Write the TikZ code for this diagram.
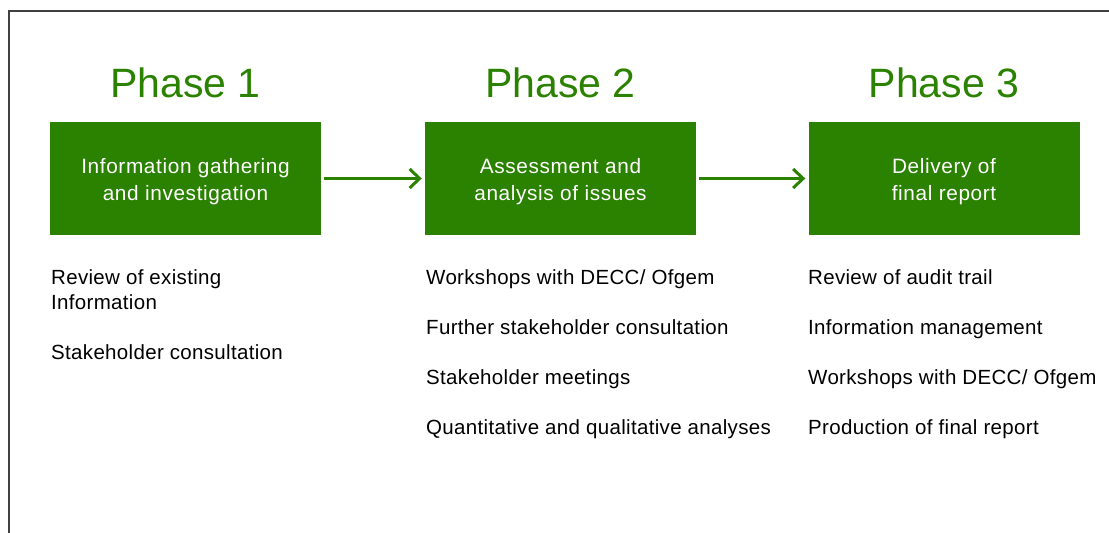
\documentclass[tikz,border=0pt]{standalone}
\usepackage{fontspec}
\setmainfont{Liberation Sans}
\newfontfamily\spaced[LetterSpace=1.6]{Liberation Sans}
\newfontfamily\widespaced[LetterSpace=3]{Liberation Sans}
\usetikzlibrary{arrows.meta}
\definecolor{phasegreen}{RGB}{43,130,0}
\definecolor{framegray}{RGB}{64,64,64}

\begin{document}
\begin{tikzpicture}[x=1pt,y=-1pt]
		\tikzstyle{phase}=[anchor=base, text=phasegreen, font=\fontsize{41}{41}\selectfont]
		\tikzstyle{box}=[fill=phasegreen, minimum width=271pt, minimum height=113pt, inner sep=0pt]
		\tikzstyle{boxlabel}=[yshift=-3pt, inner sep=0pt, text=white, align=center, font=\widespaced\fontsize{20.8}{27}\selectfont]
		\tikzstyle{task}=[anchor=base west, inner sep=0pt, align=left, font=\spaced\fontsize{20.5}{25}\selectfont]
		\tikzstyle{step arrow}=[phasegreen, line width=3pt, -{Straight Barb[length=10pt,width=19pt,line width=3pt]}]
		\useasboundingbox (0,0) rectangle (1109,533);
		\draw[framegray, line width=1.5pt] (1109,11)--(9,11)--(9,533);
		% the three phases
		\node[phase] (t1) at (185.5,97) {Phase 1};
		\node[phase] (t2) at (560.5,97) {Phase 2};
		\node[phase] (t3) at (944,97) {Phase 3};
		\node[box, label={[boxlabel]center:{Information gathering\\and investigation}}] (b1) at (185.5,178.5) {};
		\node[box, label={[boxlabel]center:{Assessment and\\analysis of issues}}] (b2) at (560.5,178.5) {};
		\node[box, label={[boxlabel]center:{Delivery of\\final report}}] (b3) at (944,178.5) {};
		\draw[step arrow] ([xshift=3pt]b1.east)--([xshift=-3pt]b2.west);
		\draw[step arrow] ([xshift=3pt]b2.east)--([xshift=-3pt]b3.west);
		% tasks under each phase
		\node[task] (p1a) at (51,309) {Review of existing\\Information};
		\node[task] (p1b) at (51,359) {Stakeholder consultation};
		\node[task] (p2a) at (426,284) {Workshops with DECC/ Ofgem};
		\node[task] (p2b) at (426,334) {Further stakeholder consultation};
		\node[task] (p2c) at (426,384) {Stakeholder meetings};
		\node[task] (p2d) at (426,434) {Quantitative and qualitative analyses};
		\node[task] (p3a) at (808,284) {Review of audit trail};
		\node[task] (p3b) at (808,334) {Information management};
		\node[task] (p3c) at (808,384) {Workshops with DECC/ Ofgem};
		\node[task] (p3d) at (808,434) {Production of final report};
	\end{tikzpicture}
\end{document}
